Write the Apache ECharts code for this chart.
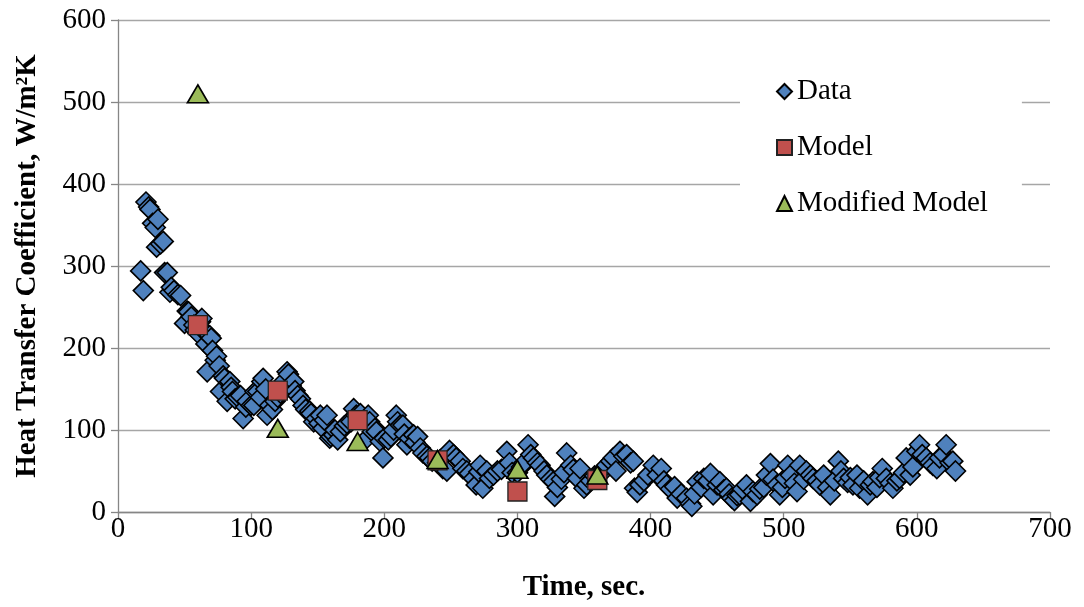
<!DOCTYPE html>
<html>
<head>
<meta charset="utf-8">
<script src="https://cdn.jsdelivr.net/npm/echarts@6/dist/echarts.min.js"></script>
<style>
  html, body { margin: 0; padding: 0; background: #fff; }
  #chart { width: 1084px; height: 607px; }
</style>
</head>
<body>
<div id="chart"></div>
<script>
// Measured heat transfer coefficient over time (sec, W/m2K)
const dataTime = [
  17,19,21,23,24,26,28,29,30,32,34,35,37,39,40,42,45,47,50,52,53,55,57,58,60,62,63,65,66,67,
  69,70,71,73,74,76,77,79,80,82,84,85,86,88,90,92,94,96,97,100,102,103,105,107,108,109,111,112,114,116,
  118,120,122,125,127,128,130,132,133,135,137,139,141,144,145,147,149,151,152,154,155,157,159,160,162,163,165,167,170,172,
  175,177,179,182,185,187,188,189,191,193,194,197,199,200,203,205,207,209,210,212,214,215,217,219,222,223,225,227,229,232,
  234,236,240,242,244,247,249,252,254,257,259,262,264,267,269,271,272,274,277,279,282,285,288,292,294,296,300,303,305,308,
  310,312,315,317,320,322,325,327,328,330,333,335,337,340,342,345,347,350,352,355,358,362,365,367,370,372,374,377,380,382,
  385,387,388,390,392,395,398,402,405,408,410,412,415,418,420,423,427,430,431,433,435,438,440,443,445,447,450,452,455,457,
  459,461,463,465,467,469,472,475,477,480,482,485,487,490,492,495,497,499,501,503,505,508,510,512,515,517,520,522,525,527,
  530,533,535,538,541,543,545,548,550,552,555,557,560,563,565,567,570,572,574,577,580,582,585,587,590,592,595,597,600,602,
  604,607,610,612,615,617,620,622,625,627,629
];
const dataValue = [
  294,270,378,372,369,352,347,323,357,327,330,292,292,268,274,270,265,264,230,245,244,238,228,222,218,232,236,220,205,171,
  215,212,197,185,190,178,147,166,163,135,159,152,147,138,140,142,114,128,135,130,130,147,147,140,159,163,150,118,130,125,
  135,140,145,160,171,168,154,159,148,142,138,130,125,123,120,110,114,108,118,102,112,118,90,92,94,100,88,98,105,108,
  110,126,118,120,112,90,118,110,98,102,98,86,66,90,88,92,100,118,110,106,106,95,82,90,94,85,92,78,72,68,
  66,62,60,64,53,50,75,70,66,62,53,50,47,41,33,49,57,29,50,41,45,50,52,74,60,48,48,55,60,82,
  70,66,60,57,50,45,40,37,19,30,40,48,72,57,52,41,53,29,33,38,44,48,50,57,62,66,50,74,68,70,
  60,62,29,24,33,38,45,57,45,53,38,33,28,31,17,22,17,10,7,22,37,30,41,38,47,21,33,37,27,29,
  22,17,14,20,21,28,33,13,25,21,28,30,45,59,40,33,21,30,41,57,45,35,25,57,40,50,45,41,38,33,
  45,30,21,38,62,50,41,36,42,33,45,29,38,21,33,37,30,42,53,41,35,29,38,41,48,66,45,55,74,82,
  70,66,60,57,53,66,70,82,60,62,50
];

// Model predictions at one-minute steps
const modelTime = [60, 120, 180, 240, 300, 360];
const modelValue = [228, 148, 112, 63, 25, 39];
const modifiedValue = [510, 102, 86, 64, 52, 45];

// Axis ticks
const xTicks = [0, 100, 200, 300, 400, 500, 600, 700];
const yTicks = [0, 100, 200, 300, 400, 500, 600];

const pair = (xs, ys) => xs.map((x, i) => [x, ys[i]]);

const FONT = 'Liberation Serif';
const FS = 29;
const axisGray = '#868686';

const chart = echarts.init(document.getElementById('chart'), null, { renderer: 'canvas' });
chart.setOption({
  animation: false,
  backgroundColor: '#ffffff',
  grid: { left: 118, right: 34, top: 20, bottom: 93 },
  legend: {
    orient: 'vertical',
    left: 740,
    top: 65,
    padding: [12, 34, 12, 36],
    backgroundColor: '#ffffff',
    itemGap: 27,
    itemWidth: 15,
    itemHeight: 15,
    textStyle: { fontFamily: FONT, fontSize: FS, color: '#000', lineHeight: 29 },
    data: ['Data', 'Model', 'Modified Model']
  },
  xAxis: {
    type: 'value',
    min: xTicks[0],
    max: xTicks[xTicks.length - 1],
    interval: 100,
    name: 'Time, sec.',
    nameLocation: 'middle',
    nameGap: 61,
    nameTextStyle: { fontFamily: FONT, fontSize: FS, fontWeight: 'bold', color: '#000' },
    axisLine: { show: true, onZero: false, lineStyle: { color: axisGray, width: 1.3 } },
    axisTick: { show: true, inside: false, length: 7, lineStyle: { color: axisGray, width: 1.3 } },
    axisLabel: { fontFamily: FONT, fontSize: FS, color: '#000', margin: 3 },
    splitLine: { show: false }
  },
  yAxis: {
    type: 'value',
    min: yTicks[0],
    max: yTicks[yTicks.length - 1],
    interval: 100,
    name: 'Heat Transfer Coefficient, W/m\u00B2K',
    nameLocation: 'middle',
    nameGap: 76,
    nameTextStyle: { fontFamily: FONT, fontSize: FS, fontWeight: 'bold', color: '#000' },
    axisLine: { show: true, lineStyle: { color: axisGray, width: 1.3 } },
    axisTick: { show: true, inside: false, length: 7, lineStyle: { color: axisGray, width: 1.3 } },
    axisLabel: { fontFamily: FONT, fontSize: FS, color: '#000', margin: 12, padding: [5, 0, 0, 0] },
    splitLine: { show: true, lineStyle: { color: '#a6a6a6', width: 1.3 } }
  },
  series: [
    {
      name: 'Data',
      type: 'scatter',
      data: pair(dataTime, dataValue),
      symbol: 'diamond',
      symbolSize: 20,
      itemStyle: { color: '#4f81bd', borderColor: '#000', borderWidth: 1.6, opacity: 1 },
      z: 2
    },
    {
      name: 'Model',
      type: 'scatter',
      data: pair(modelTime, modelValue),
      symbol: 'rect',
      symbolSize: 19,
      itemStyle: { color: '#c0504d', borderColor: '#222', borderWidth: 1.3, opacity: 1 },
      z: 3
    },
    {
      name: 'Modified Model',
      type: 'scatter',
      data: pair(modelTime, modifiedValue),
      symbol: 'triangle',
      symbolSize: [21, 18],
      itemStyle: { color: '#9bbb59', borderColor: '#000', borderWidth: 1.6, opacity: 1 },
      z: 4
    }
  ]
});
</script>
</body>
</html>
